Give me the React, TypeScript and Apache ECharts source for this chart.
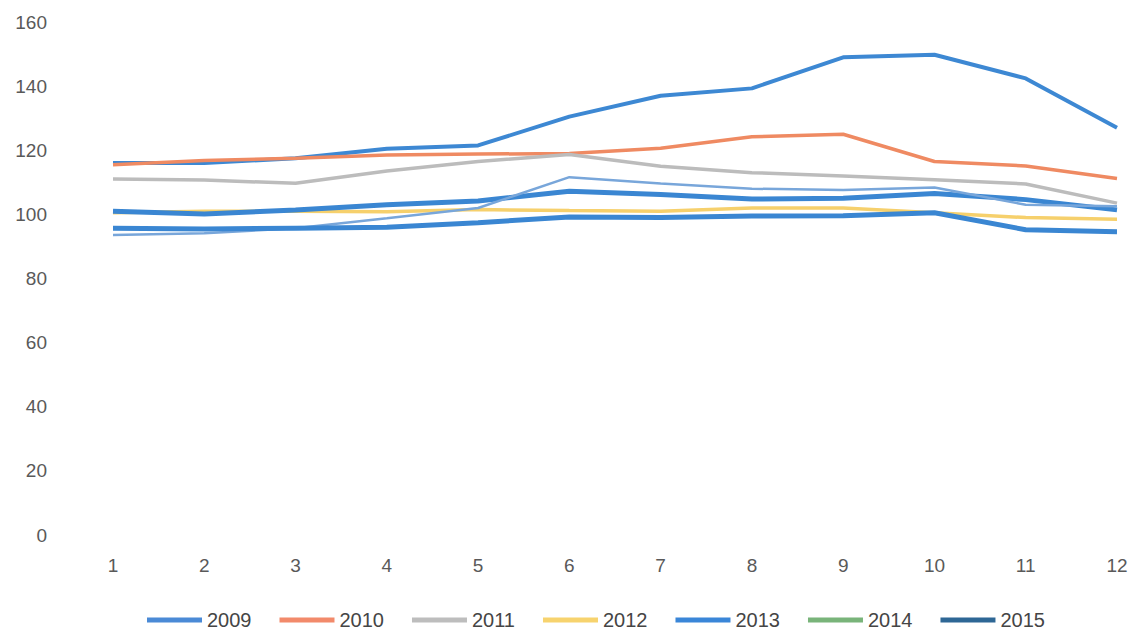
import React, { useEffect, useRef } from "react";
import * as echarts from "echarts";

const months = ["1", "2", "3", "4", "5", "6", "7", "8", "9", "10", "11", "12"];
const years = ["2009", "2010", "2011", "2012", "2013", "2014", "2015"];

const s2009 = [116, 116, 117.5, 120.5, 121.5, 130.5, 137, 139.3, 149, 149.8, 142.4, 127];
const s2010 = [115.5, 116.8, 117.5, 118.5, 118.8, 119, 120.6, 124.2, 125, 116.5, 115.1, 111.2];
const s2011 = [111, 110.7, 109.7, 113.5, 116.5, 118.7, 115, 113, 112, 110.8, 109.5, 103.5];
const s2012 = [100.5, 101, 101, 100.8, 101.5, 101.2, 101, 102, 102, 100.5, 99, 98.5];
const s2013 = [101, 100.1, 101.4, 103, 104.2, 107.2, 106.2, 104.8, 105, 106.5, 104.6, 101.4];
const s2014 = [93.6, 94.1, 95.7, 98.8, 102, 111.6, 109.6, 108, 107.6, 108.4, 103, 102.5];
const s2015 = [95.7, 95.4, 95.7, 96, 97.4, 99.2, 99, 99.5, 99.6, 100.5, 95.2, 94.6];

const yTicks = { min: 0, max: 160, interval: 20 };

const lineColors = ["#3d88d3", "#ef8a62", "#bcbcbc", "#f6d06c", "#3a86d2", "#78a6da", "#3a86d2"];
const lineWidths = [4, 3.5, 3.5, 3.5, 5, 2.5, 5];
const legendColors = ["#4a8ad6", "#f28a6b", "#bdbdbd", "#f7d36e", "#3a86d8", "#79b47a", "#2e6795"];

export default function App() {
  const ref = useRef<HTMLDivElement>(null);
  useEffect(() => {
    if (!ref.current) return;
    const chart = echarts.init(ref.current, null, { renderer: "svg" });
    const data = [s2009, s2010, s2011, s2012, s2013, s2014, s2015];
    chart.setOption({
      animation: false,
      backgroundColor: "#ffffff",
      grid: { left: 113, right: 15, top: 22, bottom: 96, containLabel: false },
      legend: {
        left: 147,
        top: 608,
        padding: 0,
        icon: "rect",
        itemWidth: 55,
        itemHeight: 5,
        itemGap: 28,
        textStyle: { fontSize: 20, lineHeight: 24, color: "#454545", fontFamily: "Liberation Sans" },
        data: years.map((y, i) => ({
          name: y,
          itemStyle: { color: legendColors[i] },
          lineStyle: { color: legendColors[i] },
        })),
      },
      xAxis: {
        type: "category",
        data: months,
        boundaryGap: false,
        axisLine: { show: false },
        axisTick: { show: false },
        axisLabel: { fontSize: 19, color: "#595959", margin: 21, fontFamily: "Liberation Sans" },
      },
      yAxis: {
        type: "value",
        min: yTicks.min,
        max: yTicks.max,
        interval: yTicks.interval,
        axisLine: { show: false },
        axisTick: { show: false },
        splitLine: { show: false },
        axisLabel: { fontSize: 19, color: "#595959", margin: 66, fontFamily: "Liberation Sans" },
      },
      series: years.map((y, i) => ({
        name: y,
        type: "line",
        data: data[i],
        symbol: "none",
        smooth: false,
        lineStyle: { color: lineColors[i], width: lineWidths[i] },
        itemStyle: { color: legendColors[i] },
      })),
    });
    return () => chart.dispose();
  }, []);
  return (
    <div
      ref={ref}
      style={{ position: "fixed", left: 0, top: 0, width: 1132, height: 631, background: "#fff" }}
    />
  );
}
